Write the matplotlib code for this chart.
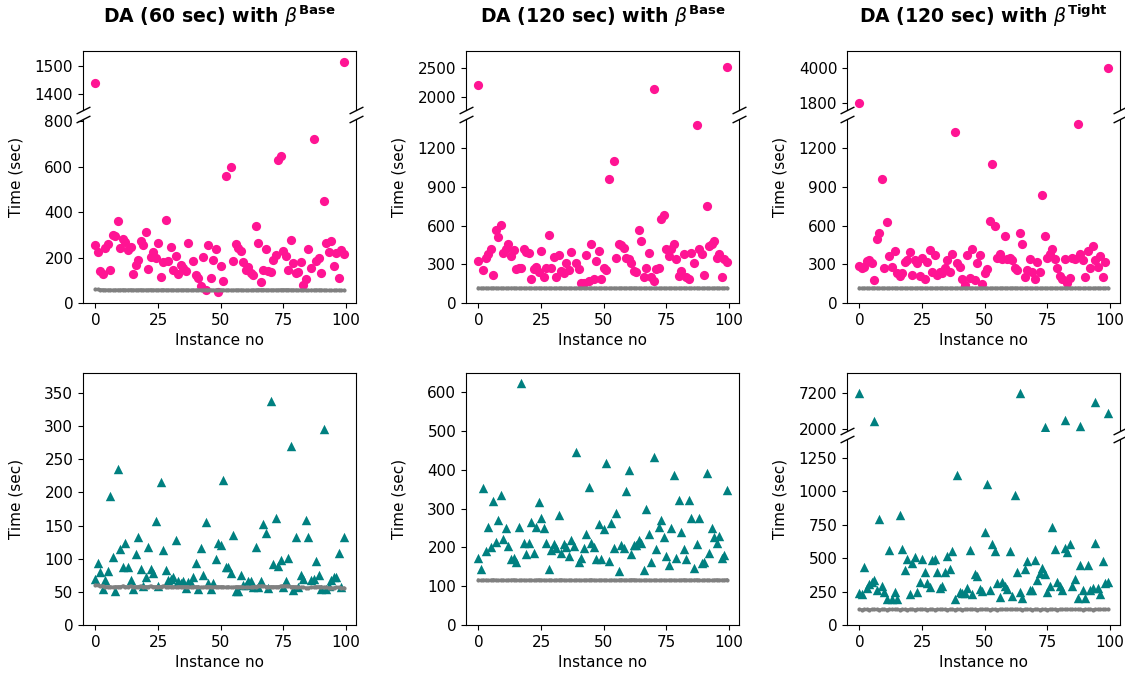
import numpy as np
import matplotlib.pyplot as plt

# run times per instance, None = no visible point
pink_60_base = [254, 225, 142, 128, 242, 261, 147, 301, 294, 361,
                240, 283, 270, 232, 245, 129, 169, 188, 275, 257,
                311, 150, 204, 226, 200, 266, 115, 182, 367, 185,
                245, 147, 206, 129, 167, 154, 141, 266, None, 184,
                125, 109, 73, 203, 59, 257, 110, 191, 239, 50,
                164, 97, 560, None, 598, 185, 261, 242, 231, 179,
                147, 157, 132, 122, 339, 264, 94, 147, 239, 139,
                135, 191, 213, 631, 646, 228, 208, 144, 279, 176,
                132, 137, 179, 81, 107, 238, 154, 720, 185, 198,
                132, 451, 266, 226, 275, 163, 222, 110, 232, 214]
pink_60_base_out_x = [0, 99]
pink_60_base_out_y = [1440, 1513]

pink_120_base = [324, None, 255, 345, 383, 421, 217, 569, 511, 605,
                 391, 421, 454, 363, 408, 260, 273, 268, 416, 396,
                 391, 189, 263, 281, 243, 401, 202, 268, 523, 268,
                 357, 204, 370, 248, 235, 306, 255, 396, None, 311,
                 263, 153, 158, 370, 171, 457, 186, 324, 401, 184,
                 268, 255, 957, None, 1103, 352, 457, 447, 429, 345,
                 340, 306, 250, 237, 567, 480, 204, 268, 391, 199,
                 174, 266, 273, 651, 684, 421, 363, 421, 454, 340,
                 209, 250, 383, 199, 184, 391, 311, 1379, 421, 383,
                 217, 753, 442, 454, 477, 352, 383, 204, 340, 319]
pink_120_base_out_x = [0, 70, 99]
pink_120_base_out_y = [2213, 2144, 2517]

pink_120_tight = [286, 268, 281, 324, 332, 311, 179, 493, 541, 957,
                  273, 625, 363, 281, 403, 235, 209, 230, 314, 332,
                  396, 217, 332, 306, 209, 345, 184, 314, 408, 243,
                  375, 217, 237, 230, 268, 332, 243, 383, 1322, 311,
                  281, 184, 140, 370, 191, 421, 179, 311, 370, 146,
                  230, 260, 638, 1080, 600, 352, 383, 340, 516, 340,
                  352, 332, 273, 255, 541, 460, 204, 255, 340, 243,
                  184, 319, 237, 835, 516, 352, 383, 421, 340, 268,
                  209, 184, 340, 158, 191, 352, 340, 1385, 378, 332,
                  204, 403, 273, 442, 332, 281, 363, 199, 319, None]
pink_120_tight_out_x = [0, 99]
pink_120_tight_out_y = [1800, 3990]

teal_60_base = [69, 93, 80, 55, 68, 82, 194, 102, 51, 235,
                114, 88, 123, 88, 68, 54, 107, 132, 85, 59,
                72, 117, 84, 78, 157, 59, 216, 113, 83, 68,
                69, 73, 128, 67, 63, 67, 56, 65, 64, 72,
                94, 55, 116, 76, 155, 64, 55, 63, 100, 123,
                120, 219, 88, 88, 78, 135, 51, 51, 75, 61,
                61, 67, 67, 58, 117, 58, 67, 152, 138, 56,
                338, 92, 162, 89, 98, 58, 67, 101, 270, 53,
                132, 58, 75, 70, 159, 133, 68, 70, 97, 76,
                55, 295, 55, 59, 68, 73, 73, 109, 58, 132]

teal_120_base = [174, 144, 354, 191, 252, 202, 320, 215, 271, 335,
                 222, 249, 204, 169, 174, 162, 252, 623, 212, 182,
                 212, 265, 185, 252, 318, 275, 249, 212, 144, 193,
                 208, 198, 285, 187, 208, 202, 178, 219, 204, 445,
                 162, 172, 198, 235, 357, 211, 202, 170, 260, 170,
                 247, 419, 166, 262, 198, 290, 138, 206, 198, 346,
                 401, 183, 206, 206, 219, 212, 142, 299, 235, 163,
                 434, 195, 254, 271, 228, 179, 155, 249, 387, 174,
                 322, 241, 195, 169, 322, 275, 148, 208, 277, 161,
                 163, 391, 187, 249, 228, 212, 230, 174, 181, 348]

teal_120_tight = [238, 230, 433, 275, 308, 325, 333, 263, 795, 293,
                  250, 193, 558, 193, 243, 193, 825, 570, 413, 493,
                  230, 463, 505, 245, 325, 493, 393, 313, 283, 488,
                  493, 395, 275, 288, 393, 513, 420, 555, 195, 1120,
                  243, 238, 238, 275, 558, 230, 380, 368, 268, 255,
                  693, 1055, 258, 608, 555, 313, 208, 318, 288, 268,
                  555, 218, 968, 395, 243, 205, 418, 475, 258, 263,
                  483, 333, 388, 425, 380, 250, 288, 733, 568, 325,
                  293, 263, 575, 543, 605, 288, 343, 205, 445, 263,
                  205, 450, 263, 275, 610, 275, 230, 475, 313, 320]
teal_120_tight_out_x = [0, 6, 64, 74, 82, 88, 94, 99]
teal_120_tight_out_y = [7200, 3100, 7200, 2240, 3200, 2385, 5850, 4310]

# baseline times (grey line)
gray_60 = [60, 60, 59, 59, 58, 58, 58, 57, 58, 58,
           58, 59, 58, 58, 59, 58, 58, 58, 59, 58,
           58, 58, 59, 58, 58, 58, 58, 59, 58, 58,
           58, 58, 57, 58, 58, 58, 58, 58, 57, 58,
           58, 58, 57, 57, 58, 58, 58, 57, 58, 58,
           58, 58, 57, 58, 57, 57, 58, 58, 58, 57,
           57, 57, 57, 58, 58, 59, 59, 59, 58, 58,
           58, 58, 58, 58, 59, 59, 59, 59, 58, 58,
           58, 57, 57, 57, 56, 56, 57, 57, 58, 58,
           58, 57, 57, 56, 56, 56, 57, 57, 56, 56]
gray_120 = [116, 115, 116, 116, 115, 116, 117, 116, 115, 116,
            116, 115, 116, 116, 117, 116, 115, 116, 116, 115,
            116, 116, 115, 116, 117, 116, 116, 115, 116, 116,
            115, 116, 116, 117, 116, 115, 116, 116, 115, 116,
            116, 115, 116, 116, 116, 117, 116, 115, 116, 116,
            116, 116, 115, 116, 116, 115, 116, 117, 116, 116,
            116, 117, 117, 116, 116, 115, 116, 116, 116, 115,
            116, 116, 115, 116, 116, 115, 116, 116, 116, 115,
            116, 116, 117, 116, 116, 116, 116, 117, 116, 115,
            116, 116, 116, 115, 116, 117, 116, 116, 116, 117]

titles = [r'DA (60 sec) with $\beta^{\mathbf{Base}}$',
          r'DA (120 sec) with $\beta^{\mathbf{Base}}$',
          r'DA (120 sec) with $\beta^{\mathbf{Tight}}$']

PINK = '#ff1493'
TEAL = '#008080'
FS = 11

W, H = 1125, 677
fig = plt.figure(figsize=(W / 100, H / 100), dpi=100)
lefts = [83, 466, 847]
AW = 273


def box(left, top, bottom):
    return [left / W, 1 - bottom / H, AW / W, (bottom - top) / H]


def style(ax):
    ax.set_xlim(-4.95, 103.95)
    ax.set_xticks([0, 25, 50, 75, 100])
    ax.tick_params(labelsize=FS)


def draw(ax, vals, gray, color, marker, size):
    y = np.array(vals, dtype=float)
    ax.scatter(np.arange(len(y)), y, c=color, marker=marker, s=size, linewidths=0, zorder=2)
    ax.plot(np.arange(len(gray)), gray, color='gray', marker='.', markersize=4,
            linewidth=2, zorder=3)
    style(ax)


def breaks(ax_top, ax_low):
    ax_top.spines['bottom'].set_visible(False)
    ax_low.spines['top'].set_visible(False)
    ax_top.tick_params(bottom=False, labelbottom=False)
    d = .5
    kw = dict(marker=[(-1, -d), (1, d)], markersize=10, linestyle='none',
              color='k', mec='k', mew=1, clip_on=False)
    ax_top.plot([0, 1], [0, 0], transform=ax_top.transAxes, **kw)
    ax_low.plot([0, 1], [1, 1], transform=ax_low.transAxes, **kw)


def ylabel(left, top, bottom):
    fig.text((left - 67) / W, 1 - (top + bottom) / 2 / H, 'Time (sec)', rotation=90,
             ha='center', va='center', fontsize=FS)


# top row: broken axes, pink circles
top_sets = [
    (pink_60_base, gray_60, pink_60_base_out_x, pink_60_base_out_y,
     (1345, 1553), [1400, 1500], (0, 810), [0, 200, 400, 600, 800]),
    (pink_120_base, gray_120, pink_120_base_out_x, pink_120_base_out_y,
     (1782, 2799), [2000, 2500], (0, 1425), [0, 300, 600, 900, 1200]),
    (pink_120_tight, gray_120, pink_120_tight_out_x, pink_120_tight_out_y,
     (1340, 5050), [1800, 4000], (0, 1425), [0, 300, 600, 900, 1200]),
]
for i, (vals, gray, ox, oy, tlim, tticks, llim, lticks) in enumerate(top_sets):
    left = lefts[i]
    at = fig.add_axes(box(left, 51, 110))
    al = fig.add_axes(box(left, 119, 303))
    at.scatter(ox, oy, c=PINK, marker='o', s=44, linewidths=0, zorder=2)
    style(at)
    draw(al, vals, gray, PINK, 'o', 44)
    at.set_ylim(*tlim)
    at.set_yticks(tticks)
    al.set_ylim(*llim)
    al.set_yticks(lticks)
    breaks(at, al)
    al.set_xlabel('Instance no', fontsize=FS)
    ylabel(left, 51, 303)
    fig.text((left + AW / 2) / W, 1 - 16 / H, titles[i], ha='center', va='center',
             fontsize=13.6, fontweight='bold')

# bottom row: triangles
ax = fig.add_axes(box(lefts[0], 373, 625))
draw(ax, teal_60_base, gray_60, TEAL, '^', 46)
ax.set_ylim(0, 380)
ax.set_yticks(range(0, 351, 50))
ax.set_xlabel('Instance no', fontsize=FS)
ylabel(lefts[0], 373, 625)

ax = fig.add_axes(box(lefts[1], 373, 625))
draw(ax, teal_120_base, gray_120, TEAL, '^', 46)
ax.set_ylim(0, 650)
ax.set_yticks(range(0, 601, 100))
ax.set_xlabel('Instance no', fontsize=FS)
ylabel(lefts[1], 373, 625)

at = fig.add_axes(box(lefts[2], 373, 431))
al = fig.add_axes(box(lefts[2], 439, 625))
at.scatter(teal_120_tight_out_x, teal_120_tight_out_y, c=TEAL, marker='^', s=46,
           linewidths=0, zorder=2)
style(at)
draw(al, teal_120_tight, gray_120, TEAL, '^', 46)
at.set_ylim(1660, 10040)
at.set_yticks([2000, 7200])
al.set_ylim(0, 1390)
al.set_yticks([0, 250, 500, 750, 1000, 1250])
breaks(at, al)
al.set_xlabel('Instance no', fontsize=FS)
ylabel(lefts[2], 373, 625)

fig.savefig('out.png', dpi=100)
